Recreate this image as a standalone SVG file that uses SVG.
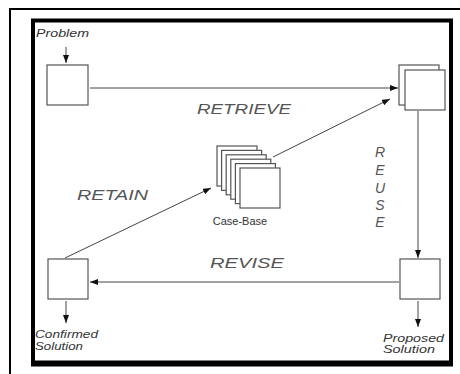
<svg xmlns="http://www.w3.org/2000/svg" width="460" height="374" viewBox="0 0 460 374">
  <style>
    .box { fill: #fff; stroke: #555; stroke-width: 1.2; }
    .edge { fill: none; stroke: #444; stroke-width: 1; }
    .step { font-family: "Liberation Sans", Arial, sans-serif; font-style: italic; font-size: 14px; fill: #555; }
    .note { font-family: "Liberation Sans", Arial, sans-serif; font-style: italic; font-size: 11px; fill: #333; }
    .label { font-family: "Liberation Sans", Arial, sans-serif; font-size: 11px; fill: #333; }
  </style>
  <defs>
    <marker id="arrow" markerWidth="8" markerHeight="6" refX="8" refY="3" orient="auto" markerUnits="userSpaceOnUse">
      <path d="M0,0 L8,3 L0,6 Z" fill="#111"/>
    </marker>
  </defs>

  <rect width="460" height="374" fill="#fff"/>

  <!-- frames -->
  <path d="M10,374 V9 H460" fill="none" stroke="#000" stroke-width="2"/>
  <rect x="33" y="20.5" width="418" height="342" fill="none" stroke="#000" stroke-width="4"/>
  <line x1="31" y1="364.5" x2="453" y2="364.5" stroke="#000" stroke-width="4"/>

  <!-- connectors -->
  <g id="connectors">
    <line class="edge" x1="66" y1="47" x2="66" y2="63" marker-end="url(#arrow)"/>
    <line class="edge" x1="90" y1="88" x2="398" y2="88" marker-end="url(#arrow)"/>
    <line class="edge" x1="273" y1="157" x2="390" y2="99" marker-end="url(#arrow)"/>
    <line class="edge" x1="418" y1="111" x2="418" y2="258" marker-end="url(#arrow)"/>
    <line class="edge" x1="399" y1="282" x2="90" y2="282" marker-end="url(#arrow)"/>
    <line class="edge" x1="65" y1="258" x2="211" y2="188" marker-end="url(#arrow)"/>
    <line class="edge" x1="66" y1="301" x2="66" y2="323" marker-end="url(#arrow)"/>
    <line class="edge" x1="418" y1="301" x2="418" y2="327" marker-end="url(#arrow)"/>
  </g>

  <!-- new problem -->
  <g id="problem">
    <text class="note" x="36" y="37" textLength="53" lengthAdjust="spacingAndGlyphs">Problem</text>
    <rect class="box" x="47" y="65" width="41" height="40"/>
  </g>

  <!-- retrieved cases -->
  <g id="retrieved">
    <rect class="box" x="399" y="65" width="40" height="40"/>
    <rect class="box" x="405" y="70" width="40" height="40"/>
  </g>

  <!-- case base stack -->
  <g id="case-base">
    <rect class="box" x="217" y="146" width="40" height="40"/>
    <rect class="box" x="221.6" y="150.4" width="40" height="40"/>
    <rect class="box" x="226.2" y="154.8" width="40" height="40"/>
    <rect class="box" x="230.8" y="159.2" width="40" height="40"/>
    <rect class="box" x="235.4" y="163.6" width="40" height="40"/>
    <rect class="box" x="240" y="168" width="40" height="40"/>
    <text class="label" x="240" y="225" text-anchor="middle">Case-Base</text>
  </g>

  <!-- proposed solution -->
  <g id="proposed">
    <rect class="box" x="400" y="259" width="40" height="40"/>
    <text class="note" x="383" y="342" textLength="61" lengthAdjust="spacingAndGlyphs">Proposed</text>
    <text class="note" x="383" y="353" textLength="52" lengthAdjust="spacingAndGlyphs">Solution</text>
  </g>

  <!-- confirmed solution -->
  <g id="confirmed">
    <rect class="box" x="48" y="259" width="40" height="40"/>
    <text class="note" x="35" y="338" textLength="63" lengthAdjust="spacingAndGlyphs">Confirmed</text>
    <text class="note" x="35" y="350" textLength="48" lengthAdjust="spacingAndGlyphs">Solution</text>
  </g>

  <!-- cycle step labels -->
  <g id="steps">
    <text class="step" x="197" y="114" textLength="94" lengthAdjust="spacingAndGlyphs">RETRIEVE</text>
    <text class="step" x="77" y="200" textLength="71" lengthAdjust="spacingAndGlyphs">RETAIN</text>
    <text class="step" x="210" y="268" textLength="74" lengthAdjust="spacingAndGlyphs">REVISE</text>
    <text class="step" x="380" y="157" text-anchor="middle">R</text>
    <text class="step" x="380" y="175" text-anchor="middle">E</text>
    <text class="step" x="380" y="193" text-anchor="middle">U</text>
    <text class="step" x="380" y="210" text-anchor="middle">S</text>
    <text class="step" x="380" y="227" text-anchor="middle">E</text>
  </g>
</svg>
